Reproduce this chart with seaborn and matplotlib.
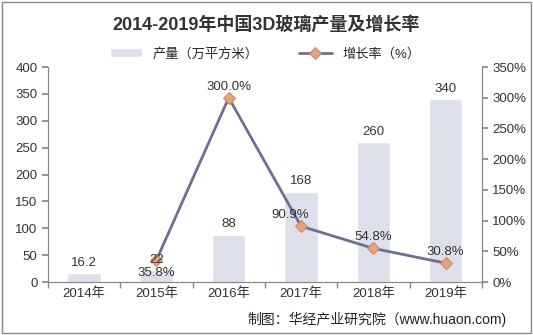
import matplotlib
matplotlib.use("Agg")
import matplotlib.pyplot as plt
import seaborn as sns
import pandas as pd
import numpy as np

years = ["2014年", "2015年", "2016年", "2017年", "2018年", "2019年"]
output = [16.2, 22, 88, 168, 260, 340]
growth = [np.nan, 35.8, 300.0, 90.9, 54.8, 30.8]
left_ticks = [0, 50, 100, 150, 200, 250, 300, 350, 400]
right_ticks = [0, 50, 100, 150, 200, 250, 300, 350]

sns.set_theme(style="white")
plt.rcParams['font.family'] = ['Liberation Sans', 'Noto Sans CJK SC', 'DejaVu Sans']

df = pd.DataFrame({"year": years, "output": output, "growth": growth})

fig = plt.figure(figsize=(5.33, 3.35), dpi=100)
ax = fig.add_axes([0.09, 0.158, 0.814, 0.642])
bar_color = "#dde0ea"
line_color = "#6c7191"
sns.barplot(data=df, x="year", y="output", color=bar_color, width=0.46, ax=ax,
            saturation=1, label="产量（万平方米）")
ax.set_ylim(0, 400)
ax.set_yticks(left_ticks)
ax.set_xlabel("")
ax.set_ylabel("")

ax2 = ax.twinx()
ax2.set_position(ax.get_position())
sns.lineplot(data=df, x="year", y="growth", ax=ax2, color=line_color, linewidth=2,
             marker="D", markersize=6, markerfacecolor="#e9a178",
             markeredgecolor="#c98a66", label="增长率（%）", legend=False)
ax2.set_ylim(0, 350)
ax2.set_yticks(right_ticks)
ax2.set_yticklabels([f"{t}%" for t in right_ticks])
ax2.set_ylabel("")
ax2.set_xlabel("")

for i, v in enumerate(output):
    s = f"{v:g}"
    ax2.text(i, v * 350 / 400 + 7, s, ha="center", va="bottom", fontsize=9.5,
             color="#333333", zorder=5)

offsets = {1: (0, -30), 2: (0, 8), 3: (-0.15, 8), 4: (0, 8), 5: (0, 8)}
for i, g in enumerate(growth):
    if np.isnan(g):
        continue
    dx, dy = offsets[i]
    ax2.text(i + dx, g + dy, f"{g:.1f}%", ha="center", va="bottom", fontsize=9.5,
             color="#333333", zorder=5)

for a in (ax, ax2):
    for sp in a.spines.values():
        sp.set_color("#888888")
        sp.set_linewidth(0.8)
    a.spines["top"].set_visible(False)
    a.tick_params(labelsize=9.5, colors="#333333", length=0)
ax.set_xlim(-0.5, 5.5)
ax.tick_params(axis="y", length=4, direction="out", color="#888888", left=True)
ax2.tick_params(axis="y", length=4, direction="out", color="#888888", right=True)
ax.set_xticks(np.arange(6))
ax.set_xticklabels(years, fontsize=9.5)
ax.set_xticks(np.arange(-0.5, 6, 1), minor=True)
ax.tick_params(axis="x", which="minor", length=4, color="#888888", bottom=True)

h1, l1 = ax.get_legend_handles_labels()
h2, l2 = ax2.get_legend_handles_labels()
leg = ax.legend(h1 + h2, l1 + l2, loc="lower center", bbox_to_anchor=(0.5, 1.0), ncol=2,
                frameon=False, fontsize=9.5, handlelength=2.5, columnspacing=3,
                borderaxespad=0.1)

fig.text(0.5, 0.925, "2014-2019年中国3D玻璃产量及增长率", ha="center", va="center",
         fontsize=13, fontweight="bold", color="#333333")
fig.text(0.95, 0.048, "制图：华经产业研究院（www.huaon.com)", ha="right", va="center",
         fontsize=10, color="#222222")
fig.patches.append(plt.Rectangle((0.004, 0.006), 0.992, 0.988, transform=fig.transFigure,
                                 fill=False, edgecolor="#888888", linewidth=1))
fig.savefig("out.png", dpi=100)
